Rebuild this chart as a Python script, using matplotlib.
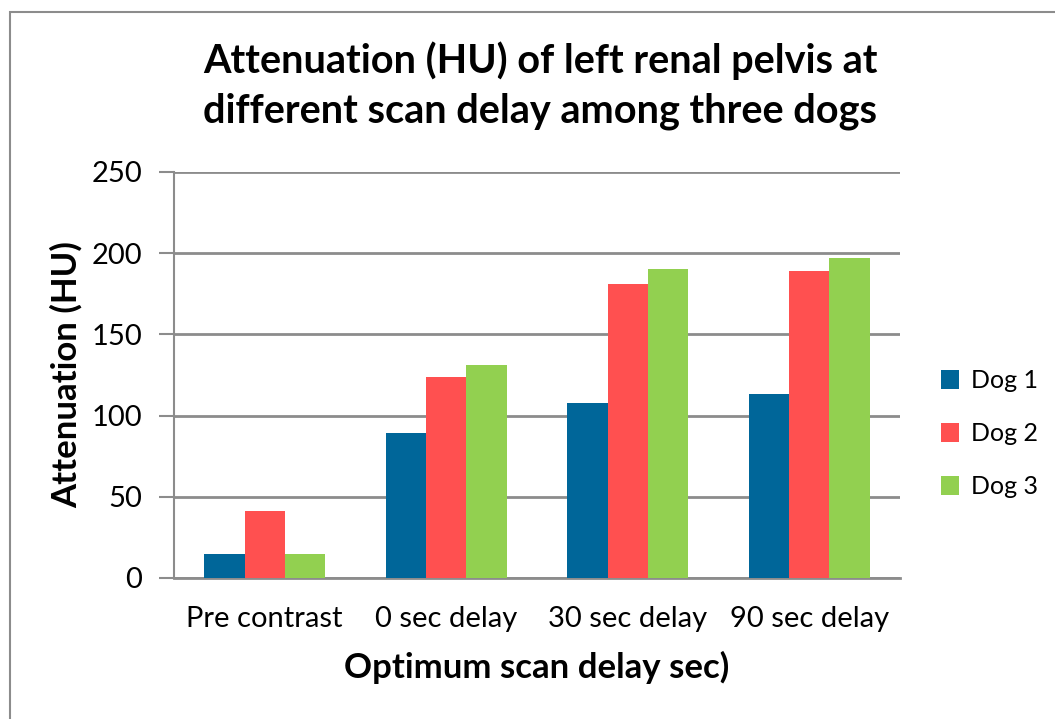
import numpy as np
import matplotlib
matplotlib.use("Agg")
import matplotlib.pyplot as plt
from matplotlib.patches import Rectangle

plt.rcParams["font.family"] = ["Lato", "DejaVu Sans"]

categories = ["Pre contrast", "0 sec delay", "30 sec delay", "90 sec delay"]
series = ["Dog 1", "Dog 2", "Dog 3"]
dog1 = [15, 89, 108, 113]
dog2 = [41, 124, 181, 189]
dog3 = [15, 131, 190, 197]
colors = ["#006699", "#FF5050", "#92D050"]

fig = plt.figure(figsize=(10.55, 7.19), dpi=100)
ax = fig.add_axes([174 / 1055, 1 - 578 / 719, 726 / 1055, 406 / 719])

x = np.arange(len(categories))
w = 0.222
for i, (vals, name, c) in enumerate(zip([dog1, dog2, dog3], series, colors)):
    ax.bar(x + (i - 1) * w, vals, width=w, color=c, label=name, zorder=3)

ax.set_xlim(-0.5, len(categories) - 0.5)
ax.set_ylim(0, 250)
ax.set_yticks(range(0, 251, 50))
ax.set_xticks(x)
ax.set_xticklabels(categories)
ax.tick_params(axis="x", length=0, pad=20, labelsize=21)
ax.tick_params(axis="y", length=11, width=1.5, color="#8c8c8c", pad=12, labelsize=21)
ax.grid(axis="y", color="#8c8c8c", linewidth=2, zorder=0)
for s in ["top", "right"]:
    ax.spines[s].set_visible(False)
ax.spines["left"].set_color("#8c8c8c")
ax.spines["left"].set_linewidth(1.5)
ax.spines["bottom"].set_color("#8c8c8c")
ax.spines["bottom"].set_linewidth(2)

ax.set_ylabel("Attenuation (HU)", fontsize=25, fontweight="bold", labelpad=6)
ax.set_xlabel("Optimum scan delay sec)", fontsize=25, fontweight="bold", labelpad=14)

fig.text(540 / 1055, 1 - 86 / 719,
         "Attenuation (HU) of left renal pelvis at\ndifferent scan delay among three dogs",
         ha="center", va="center", fontsize=28.5, fontweight="bold", linespacing=1.42)

ax.legend(loc="center left", bbox_to_anchor=(1.025, 0.355), frameon=False,
          fontsize=18, handlelength=0.75, handleheight=0.75, handletextpad=0.45,
          labelspacing=1.2)

fig.add_artist(Rectangle((10 / 1055, -0.1), 1.2, 1.1 - 12 / 719,
                         transform=fig.transFigure, fill=False,
                         edgecolor="#8c8c8c", linewidth=1.5))

fig.savefig("out.png", dpi=100)
